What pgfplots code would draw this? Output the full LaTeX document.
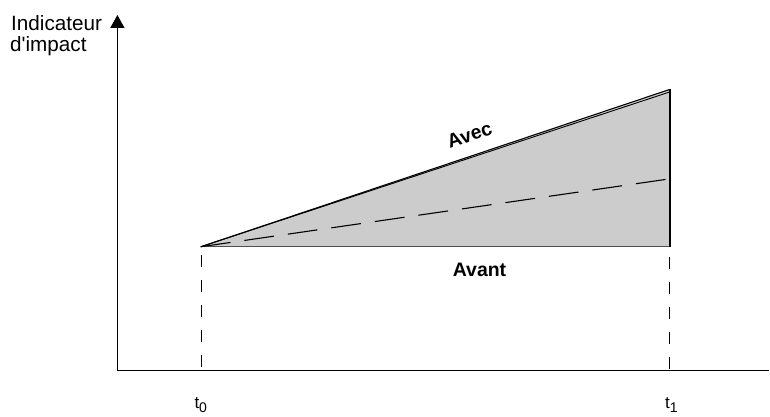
\documentclass[border=0pt]{standalone}
\usepackage{fontspec}
\setmainfont{Liberation Sans}
\usepackage{pgfplots}
\pgfplotsset{compat=1.18}
\usetikzlibrary{arrows.meta}
\definecolor{fillgray}{RGB}{204,204,204}
\definecolor{basegray}{RGB}{80,80,80}
\begin{document}
\begin{tikzpicture}
\begin{axis}[
  width=770pt, height=417pt, scale only axis,
  xmin=0, xmax=770, ymin=0, ymax=417,
  hide axis, clip=false,
]
\path (axis cs:0,0) rectangle (axis cs:770,417);
% shaded area
\addplot[draw=none, fill=fillgray] coordinates {(201,170) (670.5,327) (670.5,170)} -- cycle;
% base line (Avant)
\addplot[basegray, line width=1.3pt] coordinates {(201,170) (670.5,170)};
% right edge
\addplot[black, line width=1.3pt] coordinates {(670.5,170) (670.5,327.5)};
% Avec lines
\addplot[black, line width=1.1pt] coordinates {(201,170) (670.5,327.5)};
\addplot[black, line width=0.9pt] coordinates {(201,170) (670.5,325)};
% dashed counterfactual
\addplot[black, line width=1.1pt, dash pattern=on 30pt off 14pt, dash phase=0pt] coordinates {(201,170) (670.5,238)};
% vertical dashed markers
\addplot[black, line width=0.9pt, dash pattern=on 12pt off 13pt] coordinates {(202,162) (202,46)};
\addplot[black, line width=0.9pt, dash pattern=on 12pt off 13pt] coordinates {(670.5,160) (670.5,46)};
% axes
\addplot[black, line width=1.5pt] coordinates {(117.5,46) (770,46)};
\addplot[black, line width=1.5pt, -{Triangle[width=14pt,length=13pt]}] coordinates {(117.5,46) (117.5,402)};
% labels
\node[anchor=base west, inner sep=0pt, font=\fontsize{20.7}{24}\selectfont] at (axis cs:11,386) {Indicateur};
\node[anchor=base west, inner sep=0pt, font=\fontsize{20.7}{24}\selectfont] at (axis cs:10,365) {d\textquotesingle impact};
\node[rotate=18.43, inner sep=0pt, font=\fontsize{19.5}{22}\selectfont\bfseries] at (axis cs:470,282) {Avec};
\node[anchor=base, inner sep=0pt, font=\fontsize{19.5}{22}\selectfont\bfseries] at (axis cs:480,140) {Avant};
\node[anchor=base west, inner sep=0pt, font=\fontsize{17}{20}\selectfont] at (axis cs:194.5,8.5) {t\raisebox{-4.5pt}{\fontsize{14}{14}\selectfont 0}};
\node[anchor=base west, inner sep=0pt, font=\fontsize{17}{20}\selectfont] at (axis cs:665.5,8.5) {t\raisebox{-4.5pt}{\fontsize{14}{14}\selectfont 1}};
\end{axis}
\end{tikzpicture}
\end{document}
